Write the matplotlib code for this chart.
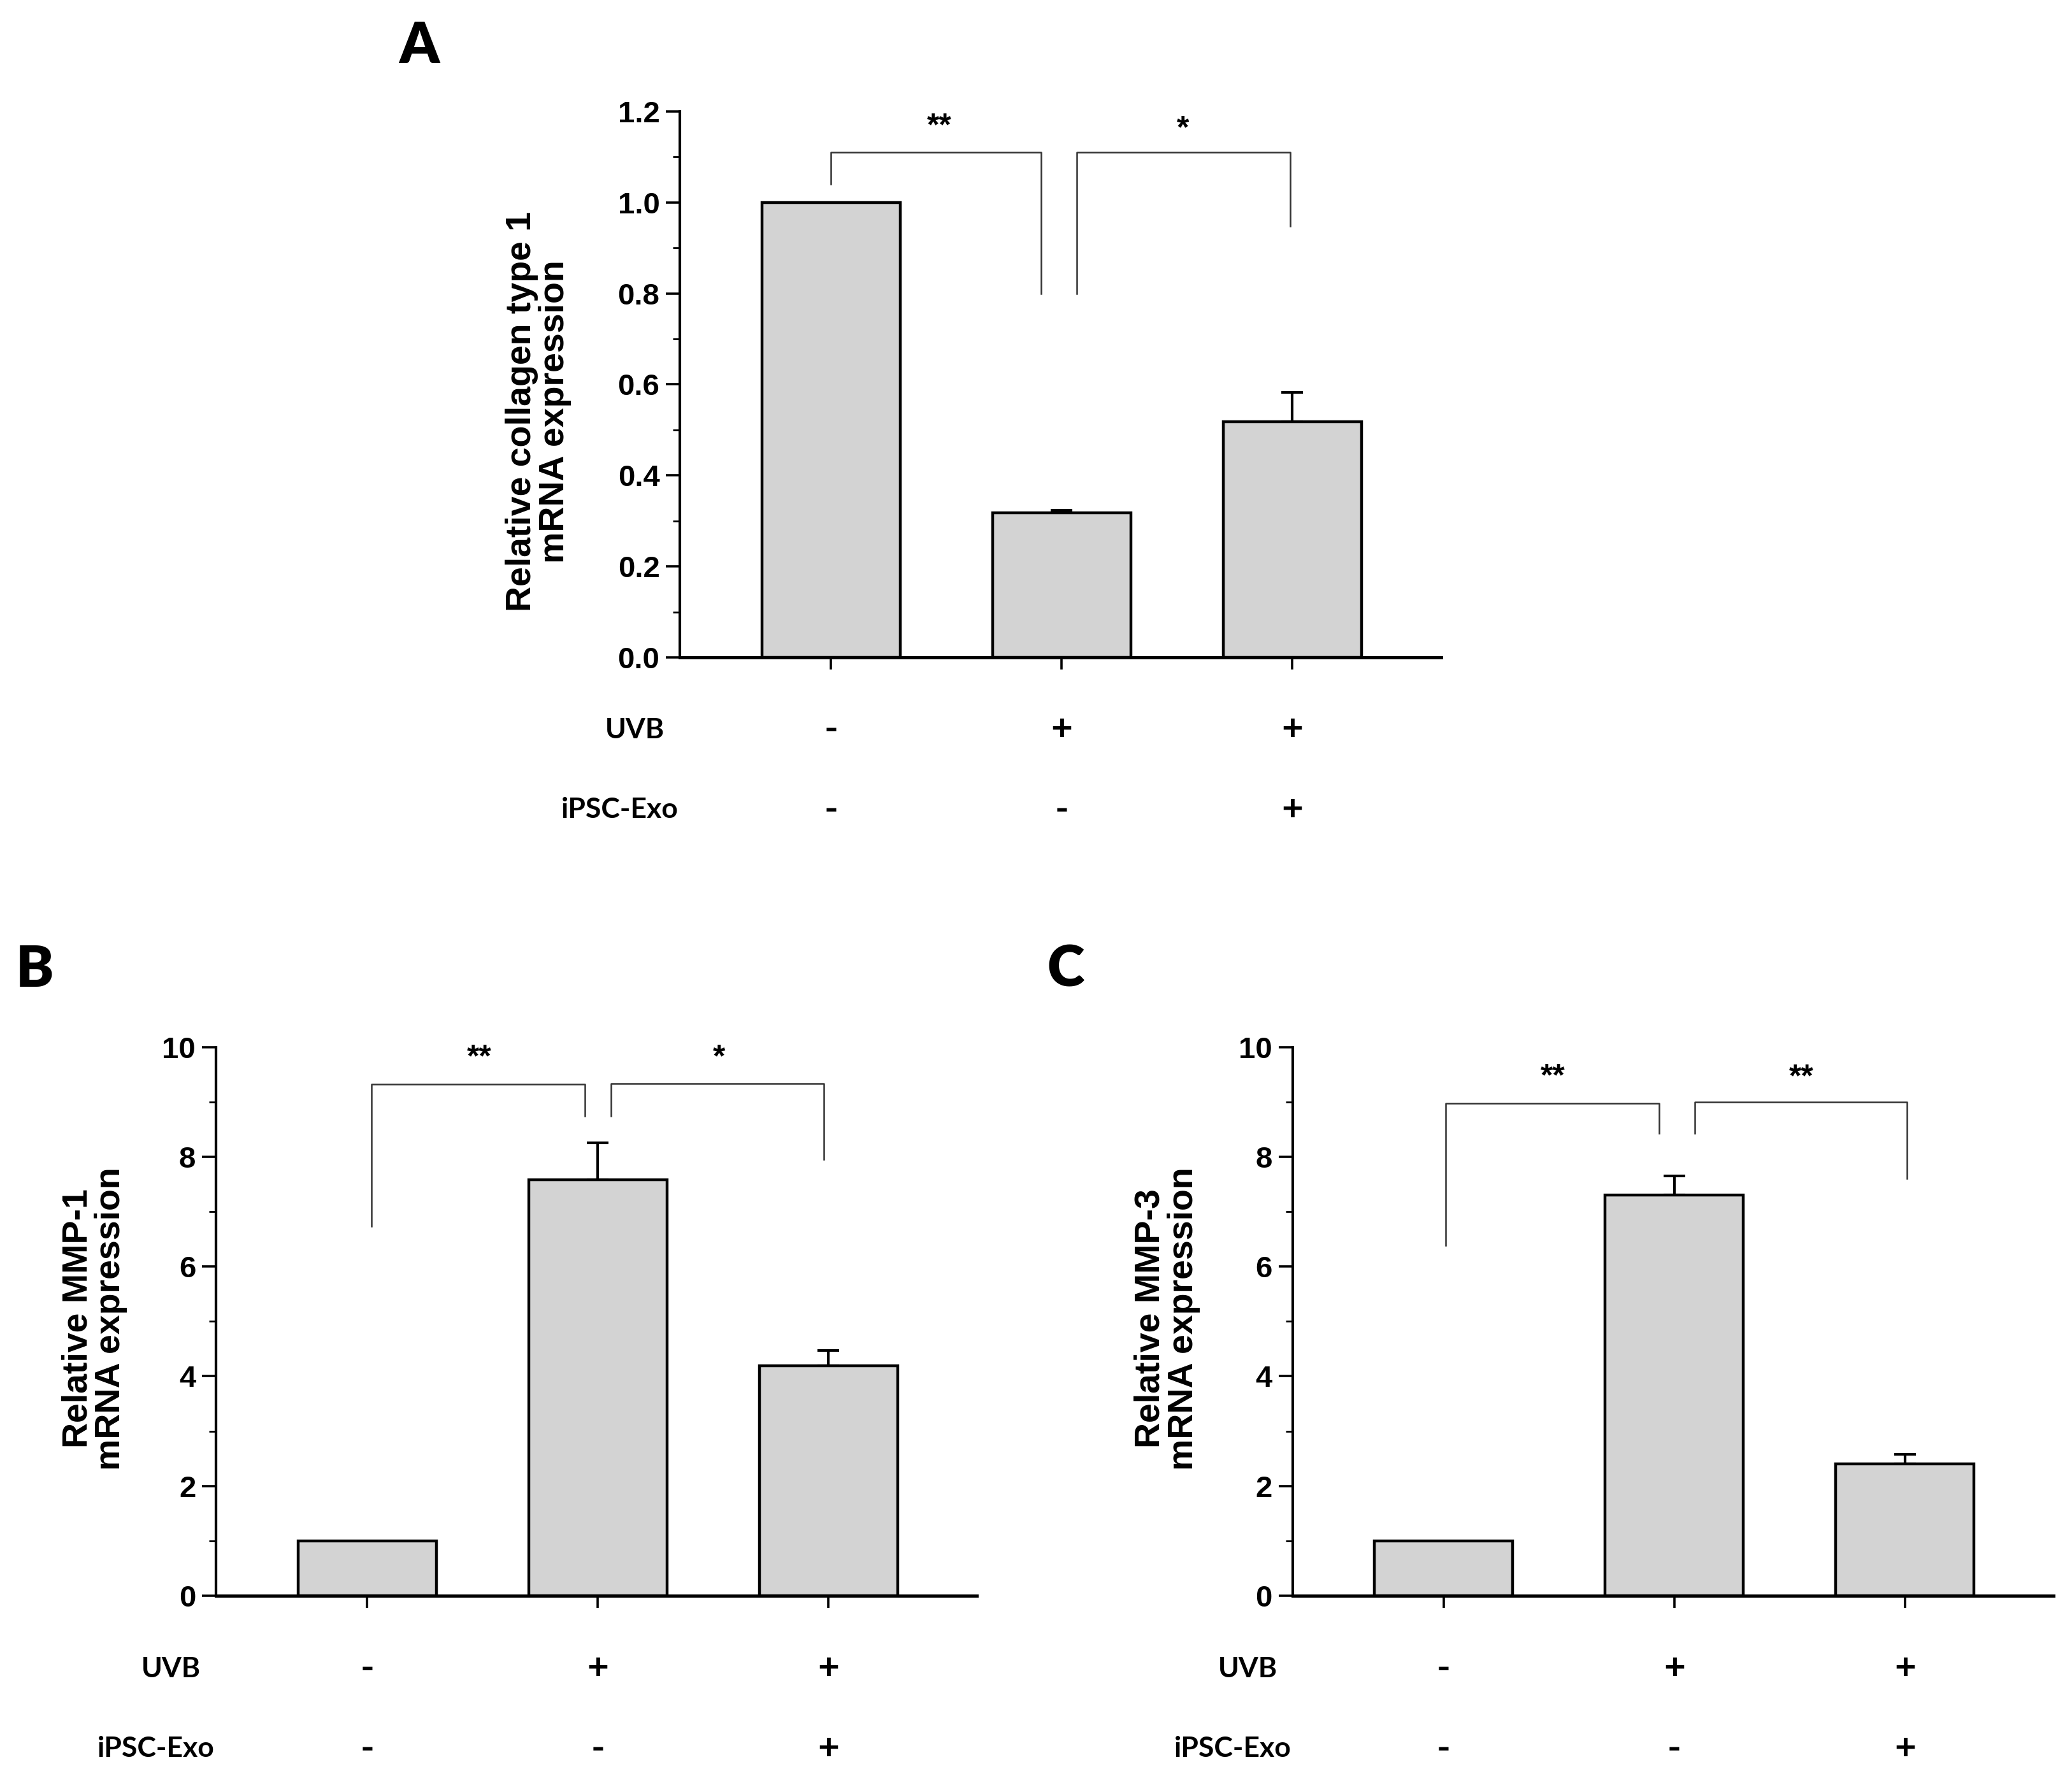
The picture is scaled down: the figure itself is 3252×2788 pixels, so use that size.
import matplotlib
matplotlib.use('Agg')
import matplotlib.pyplot as plt
from matplotlib import font_manager
from matplotlib.ticker import MultipleLocator

# data
groups = ['ctrl', 'UVB', 'UVB+Exo']
uvb_row = ['-', '+', '+']
exo_row = ['-', '-', '+']

col1_vals = [1.0, 0.318, 0.518]
col1_err = [0.0, 0.005, 0.065]
mmp1_vals = [1.0, 7.58, 4.19]
mmp1_err = [0.0, 0.68, 0.28]
mmp3_vals = [1.0, 7.30, 2.40]
mmp3_err = [0.0, 0.35, 0.18]

# brackets: (x_left, x_right, y_left_bottom, y_top, y_right_bottom, stars, star_x, star_y)
col1_brackets = [(0.0, 0.91, 1.04, 1.11, 0.80, '**', 0.47, 1.165),
                 (1.065, 1.99, 0.80, 1.11, 0.947, '*', 1.525, 1.16)]
mmp1_brackets = [(0.02, 0.944, 6.73, 9.32, 8.74, '**', 0.487, 9.8),
                 (1.056, 1.98, 8.74, 9.34, 7.95, '*', 1.525, 9.8)]
mmp3_brackets = [(0.01, 0.935, 6.38, 8.97, 8.43, '**', 0.473, 9.45),
                 (1.09, 2.01, 8.43, 9.0, 7.61, '**', 1.55, 9.43)]

names = {f.name for f in font_manager.fontManager.ttflist}
tick_font = 'Liberation Sans Narrow' if 'Liberation Sans Narrow' in names else 'Liberation Sans'
label_font = 'Liberation Sans'
cal_font = 'Lato'

W, H = 1563.0, 1340.0  # layout measured on a 1563x1340 grid


def rect(l, r, top, bottom):
    return [l / W, 1 - bottom / H, (r - l) / W, (bottom - top) / H]


fig = plt.figure(figsize=(16.26, 13.94), dpi=200)


def draw_panel(pos, vals, errs, ymax, major, minor, ylabel, lab_xy, brackets, letter, letter_xy, fmt):
    ax = fig.add_axes(pos)
    x = range(len(vals))
    ax.bar(x, vals, width=0.6, color='#d3d3d3', edgecolor='black', linewidth=1.6, zorder=2)
    lower = [0] * len(errs)
    ax.errorbar(list(x)[1:], vals[1:], yerr=[lower[1:], errs[1:]], fmt='none',
                ecolor='black', elinewidth=1.5, capsize=6, capthick=1.5, zorder=1)
    ax.set_xlim(-0.655, 2.644)
    ax.set_ylim(0, ymax)
    for s in ['top', 'right']:
        ax.spines[s].set_visible(False)
    ax.spines['left'].set_linewidth(1.5)
    ax.spines['bottom'].set_linewidth(1.8)
    ax.yaxis.set_major_locator(MultipleLocator(major))
    ax.yaxis.set_minor_locator(MultipleLocator(minor))
    ax.tick_params(axis='y', which='major', direction='out', length=8, width=1.3)
    ax.tick_params(axis='y', which='minor', direction='out', length=4, width=1.0)
    ax.set_xticks(list(x))
    ax.set_xticklabels([])
    ax.tick_params(axis='x', which='major', direction='out', length=7, width=1.3)
    ax.set_yticks(ax.get_yticks())
    ax.set_yticklabels([fmt.format(t) for t in ax.get_yticks()],
                       fontfamily=tick_font, fontweight='bold', fontsize=17)
    ax.set_ylim(0, ymax)
    ax.text(lab_xy[0], lab_xy[1], ylabel, transform=ax.transAxes, rotation=90,
            ha='center', va='center', multialignment='center',
            fontfamily=label_font, fontweight='bold', fontsize=20, linespacing=1.0)

    for xl, xr, yl, yt, yr, stars, sx, sy in brackets:
        ax.plot([xl, xl, xr, xr], [yl, yt, yt, yr], color='#333333', lw=0.9,
                clip_on=False, zorder=3)
        ax.text(sx, sy, stars, ha='center', va='center', fontfamily=label_font,
                fontweight='bold', fontsize=18)

    tr = ax.get_xaxis_transform()
    ax.text(-0.85, -0.133, 'UVB', transform=tr, ha='center', va='center',
            fontfamily=cal_font, fontweight='bold', fontsize=16)
    ax.text(-0.915, -0.279, 'iPSC-Exo', transform=tr, ha='center', va='center',
            fontfamily=cal_font, fontweight='bold', fontsize=16)
    for i in x:
        ax.text(i, -0.133, uvb_row[i], transform=tr, ha='center', va='center',
                fontfamily=cal_font, fontweight='bold', fontsize=21)
        ax.text(i, -0.279, exo_row[i], transform=tr, ha='center', va='center',
                fontfamily=cal_font, fontweight='bold', fontsize=21)

    fig.text(letter_xy[0] / W, 1 - letter_xy[1] / H, letter, ha='center', va='center',
             fontfamily=cal_font, fontweight='heavy', fontsize=32)
    return ax


draw_panel(rect(513, 1087, 84, 496), col1_vals, col1_err, 1.2, 0.2, 0.1,
           'Relative collagen type 1\nmRNA expression', (-0.186, 0.45),
           col1_brackets, 'A', (316, 35), '{:.1f}')
draw_panel(rect(163, 737, 790, 1204), mmp1_vals, mmp1_err, 10, 2, 1,
           'Relative MMP-1\nmRNA expression', (-0.16, 0.505),
           mmp1_brackets, 'B', (26, 732), '{:.0f}')
draw_panel(rect(975, 1549, 790, 1204), mmp3_vals, mmp3_err, 10, 2, 1,
           'Relative MMP-3\nmRNA expression', (-0.165, 0.505),
           mmp3_brackets, 'C', (804, 732), '{:.0f}')

fig.savefig('out.png', dpi=200, facecolor='white')
